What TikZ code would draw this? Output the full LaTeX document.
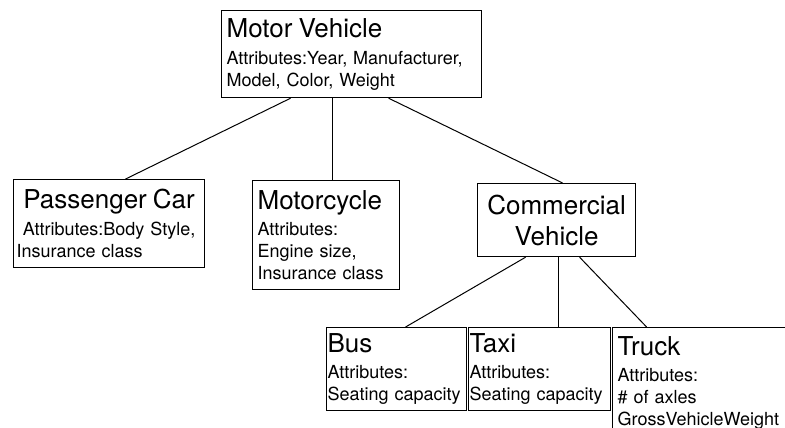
\documentclass[tikz,border=0pt]{standalone}
\usepackage{fontspec}
\setmainfont{TeX Gyre Heros}
\newcommand{\vtitle}{\fontsize{26}{28}\selectfont}
\newcommand{\vattr}{\fontsize{18}{22}\selectfont}
\tikzset{
	vbox/.style={draw, line width=1.2pt, anchor=north west, align=left, inner ysep=0pt, font=\vattr},
	vlink/.style={line width=1pt}
}

\begin{document}
\begin{tikzpicture}[x=1pt,y=-1pt]
			\useasboundingbox (0,0) rectangle (785,428);
			\clip (0,0) rectangle (785,428);
			\node[vbox, inner xsep=5pt, text width=250pt, minimum height=87pt] (motor) at (221,10) {{\vtitle Motor Vehicle}\\[5pt]Attributes:Year, Manufacturer,\\Model, Color, Weight};
			\node[vbox, align=center, inner xsep=3pt, text width=185pt, minimum height=88pt] (pcar) at (13,179) {{\vtitle Passenger Car}\\[5pt]Attributes:Body Style,\\\makebox[\linewidth][l]{Insurance class}};
			\node[vbox, inner xsep=5pt, text width=137pt, minimum height=109pt] (mcycle) at (252,180) {{\vtitle Motorcycle}\\[4pt]Attributes:\\Engine size,\\Insurance class};
			\node[vbox, align=center, font=\fontsize{26}{31}\selectfont, inner xsep=5pt, text width=148pt, minimum height=73pt] (comm) at (477,183) {Commercial\\Vehicle};
			\node[vbox, inner xsep=1pt, text width=138pt, minimum height=83pt] (bus) at (326,327) {{\vtitle Bus}\\[4pt]Attributes:\\Seating capacity};
			\node[vbox, inner xsep=1pt, text width=140pt, minimum height=83pt] (taxi) at (468,327) {{\vtitle Taxi}\\[4pt]Attributes:\\Seating capacity};
			\node[vbox, inner xsep=5pt, text width=166pt, minimum height=110pt] (truck) at (612,327) {{\vtitle Truck}\\[4pt]Attributes:\\\# of axles\\GrossVehicleWeight};
			\draw[vlink] ([xshift=-61pt]motor.south) -- ([xshift=16.5pt]pcar.north);
			\draw[vlink] ([xshift=-19pt]motor.south) -- ([xshift=6.5pt]mcycle.north);
			\draw[vlink] ([xshift=37pt]motor.south) -- ([xshift=6pt]comm.north);
			\draw[vlink] ([xshift=-31pt]comm.south) -- ([xshift=9pt]bus.north);
			\draw[vlink] ([xshift=2pt]comm.south) -- ([xshift=19pt]taxi.north);
			\draw[vlink] ([xshift=23pt]comm.south) -- ([xshift=-54pt]truck.north);
		\end{tikzpicture}
\end{document}
